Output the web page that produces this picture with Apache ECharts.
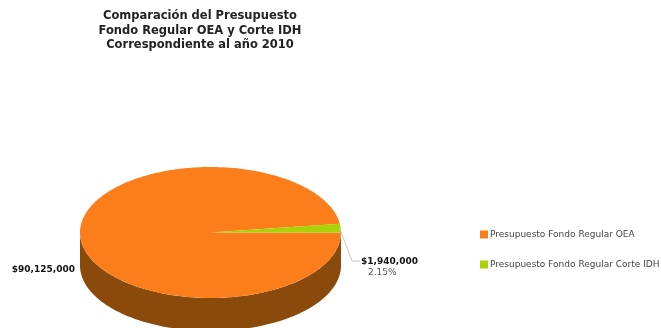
<!DOCTYPE html>
<html>
<head>
<meta charset="utf-8">
<style>html,body{margin:0;padding:0;background:#fff}#chart{width:661px;height:328px}</style>
<script src="https://cdn.jsdelivr.net/npm/echarts@6/dist/echarts.min.js"></script>
</head>
<body>
<div id="chart"></div>
<script>
const titleLines = ['Comparación del Presupuesto', 'Fondo Regular OEA y Corte IDH', 'Correspondiente al año 2010'];
const categories = ['Presupuesto Fondo Regular Corte IDH', 'Presupuesto Fondo Regular OEA'];
const values = [1940000, 90125000];
const amountLabels = ['$1,940,000', '$90,125,000'];
const percentLabels = ['2.15%', ''];
const topColors = ['#a9d308', '#fb7e1b'];
const sideColors = ['#5f7504', '#8a4a0c'];
const legendOrder = ['Presupuesto Fondo Regular OEA', 'Presupuesto Fondo Regular Corte IDH'];

// Tilted disc geometry: top face ellipse plus the extrusion depth below it.
const disc = { cx: 210.5, cy: 232.5, rx: 130.5, ry: 65.5, depth: 33 };
const total = values.reduce((a, b) => a + b, 0);

function sliceAngles(index) {
  let start = 0;
  for (let i = 0; i < index; i++) start += values[i] / total * 360;
  return [start, start + values[index] / total * 360];
}

function rimPoint(deg, drop) {
  const t = deg * Math.PI / 180;
  return [disc.cx + disc.rx * Math.cos(t), disc.cy - disc.ry * Math.sin(t) + (drop || 0)];
}

function arcPoints(from, to, drop) {
  const pts = [];
  const steps = Math.max(2, Math.ceil(Math.abs(to - from)));
  for (let i = 0; i <= steps; i++) pts.push(rimPoint(from + (to - from) * i / steps, drop));
  return pts;
}

// The wall is only seen on the front half of the rim (180deg to 360deg).
function wallPolygon(a, b) {
  const from = Math.max(a, 180), to = Math.min(b, 360);
  if (to <= from) return null;
  return arcPoints(from, to, 0).concat(arcPoints(to, from, disc.depth));
}

function renderSlice(params, api) {
  const i = api.value(0);
  const [a, b] = sliceAngles(i);
  const children = [];
  const wall = wallPolygon(a, b);
  if (wall) children.push({ type: 'polygon', shape: { points: wall }, style: { fill: sideColors[i] } });
  children.push({
    type: 'polygon',
    shape: { points: [[disc.cx, disc.cy]].concat(arcPoints(a, b, 0)) },
    style: { fill: topColors[i] }
  });
  return { type: 'group', children: children };
}

function sliceSeries(i) {
  return {
    type: 'custom',
    name: categories[i],
    coordinateSystem: 'none',
    silent: true,
    clip: false,
    itemStyle: { color: topColors[i] },
    data: [[i, values[i]]],
    renderItem: renderSlice
  };
}

// Callouts drawn last so they sit over the disc.
function renderCallouts() {
  const mid = (sliceAngles(0)[0] + sliceAngles(0)[1]) / 2;
  const anchor = rimPoint(mid);
  return {
    type: 'group',
    children: [
      { type: 'polyline', shape: { points: [[anchor[0] - 1, anchor[1]], [352, 261], [360, 261]] },
        style: { stroke: '#c9c9c9', lineWidth: 1, fill: null } },
      { type: 'text', x: 361, y: 262, style: { text: amountLabels[0], fill: '#111',
        font: 'bold 9px "DejaVu Sans"', textAlign: 'left', textVerticalAlign: 'middle' } },
      { type: 'text', x: 368, y: 273, style: { text: percentLabels[0], fill: '#555',
        font: '9px "DejaVu Sans"', textAlign: 'left', textVerticalAlign: 'middle' } },
      { type: 'text', x: 75, y: 270, style: { text: amountLabels[1], fill: '#111',
        font: 'bold 9px "DejaVu Sans"', textAlign: 'right', textVerticalAlign: 'middle' } }
    ]
  };
}

const chart = echarts.init(document.getElementById('chart'), null, { renderer: 'canvas' });
chart.setOption({
  animation: false,
  backgroundColor: '#ffffff',
  title: {
    text: titleLines.join('\n'),
    left: 195,
    top: 4,
    textAlign: 'center',
    textStyle: { fontFamily: 'DejaVu Sans', fontSize: 11.5, fontWeight: 'bold', color: '#222', lineHeight: 14.5 }
  },
  legend: {
    orient: 'vertical',
    left: 475,
    top: 225,
    itemWidth: 8,
    itemHeight: 8,
    itemGap: 21,
    icon: 'rect',
    selectedMode: false,
    data: legendOrder,
    textStyle: { fontFamily: 'DejaVu Sans', fontSize: 9, color: '#444', padding: [0, 0, 0, -3] }
  },
  series: [
    sliceSeries(1),
    sliceSeries(0),
    { type: 'custom', name: 'callouts', coordinateSystem: 'none', silent: true, clip: false,
      data: [[0]], renderItem: renderCallouts }
  ]
});
</script>
</body>
</html>
